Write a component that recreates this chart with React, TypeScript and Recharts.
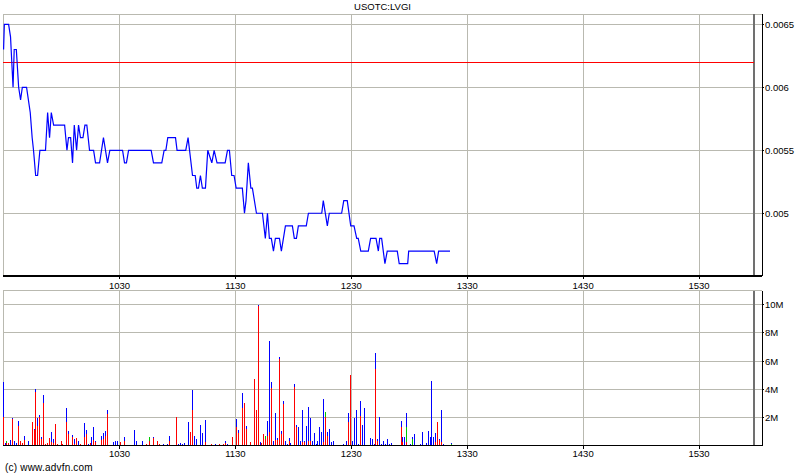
import React from 'react';
import {
  LineChart, Line, BarChart, Bar, XAxis, YAxis, CartesianGrid, ReferenceLine,
} from 'recharts';

const TITLE = 'USOTC:LVGI';
const COPYRIGHT = '(c) www.advfn.com';
const X_TICKS = [60, 120, 180, 240, 300, 360];
const X_DOMAIN: [number, number] = [-0.3, 392.6];
const CLOSE_MIN = 388.4;
const PRICE_TICKS = [0.005, 0.0055, 0.006, 0.0065];
const PRICE_MINOR = [0.00475, 0.00525, 0.00575, 0.00625];
const PRICE_DOMAIN: [number, number] = [0.004502, 0.006582];
const PREV_CLOSE = 0.0062;
const VOL_TICKS = [2, 4, 6, 8, 10];
const VOL_MINOR = [1, 3, 5, 7, 9];
const VOL_DOMAIN: [number, number] = [0, 11];

// minutes after 09:30
const priceMinutes = [0, 0.4, 2.6, 3.6, 4.9, 5.5, 6.6, 7.8, 8.8, 9.7, 11.9, 13.8, 14.8, 15.5, 16.6, 17.6, 18.8, 21.7, 22.8, 23.8, 24.7, 25.9, 31.6, 32.8, 33.6, 34.7, 35.7, 36.6, 37.8, 38.8, 39.8, 41.1, 42.1, 43.1, 44.5, 46.6, 47.6, 49.7, 51.7, 53.8, 55.0, 61.6, 62.6, 63.6, 64.7, 76.4, 77.6, 81.9, 83.1, 84.0, 85.0, 89.0, 89.8, 94.3, 95.5, 97.8, 99.2, 100.0, 100.9, 101.9, 102.9, 104.5, 105.7, 107.8, 109.0, 110.5, 114.7, 115.9, 116.9, 118.1, 119.3, 120.4, 123.6, 124.7, 125.5, 126.7, 128.0, 128.8, 130.9, 134.0, 135.5, 136.6, 137.6, 138.6, 139.7, 140.7, 142.8, 143.8, 145.9, 149.5, 150.5, 151.6, 152.6, 156.7, 157.8, 164.7, 165.5, 167.6, 168.6, 175.0, 176.1, 177.9, 179.7, 181.4, 182.8, 183.6, 184.9, 188.8, 190.0, 192.8, 194.0, 194.7, 195.7, 197.4, 198.6, 203.8, 204.8, 209.2, 209.7, 222.9, 224.2, 225.2, 231.1];
const priceValues = [0.0063, 0.0065, 0.0065, 0.0064, 0.0060, 0.0063, 0.0063, 0.0060, 0.0059, 0.0060, 0.0060, 0.0058, 0.0056, 0.0055, 0.0053, 0.0053, 0.0055, 0.0055, 0.0058, 0.0056, 0.0058, 0.0057, 0.0057, 0.0055, 0.0056, 0.0056, 0.0054, 0.0057, 0.0055, 0.0057, 0.0056, 0.0056, 0.0057, 0.0057, 0.0055, 0.0055, 0.0054, 0.0054, 0.0056, 0.0054, 0.0055, 0.0055, 0.0054, 0.0054, 0.0055, 0.0055, 0.0054, 0.0054, 0.0055, 0.0055, 0.0056, 0.0056, 0.0055, 0.0055, 0.0056, 0.0053, 0.0053, 0.0052, 0.0052, 0.0053, 0.0052, 0.0052, 0.0055, 0.0054, 0.0055, 0.0054, 0.0054, 0.0055, 0.0055, 0.0053, 0.0053, 0.0052, 0.0052, 0.0050, 0.0051, 0.0054, 0.0052, 0.0052, 0.0050, 0.0050, 0.0048, 0.0050, 0.0048, 0.0048, 0.0047, 0.0048, 0.0048, 0.0047, 0.0049, 0.0049, 0.0048, 0.0048, 0.0049, 0.0049, 0.0050, 0.0050, 0.0051, 0.0049, 0.0050, 0.0050, 0.0051, 0.0051, 0.0049, 0.0049, 0.0048, 0.0048, 0.0047, 0.0047, 0.0048, 0.0048, 0.0047, 0.0048, 0.0048, 0.0046, 0.0047, 0.0047, 0.0046, 0.0046, 0.0047, 0.0047, 0.0046, 0.0047, 0.0047];

// volume in millions, per minute after 09:30
const volMinutes = [0, 1, 2, 3, 4, 5, 6, 7, 8, 9, 10, 11, 12, 13, 15, 16, 17, 18, 19, 20, 21, 22, 23, 24, 25, 26, 27, 28, 30, 31, 33, 34, 36, 37, 38, 39, 40, 42, 43, 44, 45, 46, 47, 48, 51, 52, 53, 54, 57, 58, 59, 61, 63, 68, 69, 72, 74, 76, 78, 80, 81, 83, 85, 86, 90, 91, 92, 93, 94, 96, 97, 98, 99, 100, 102, 103, 105, 108, 110, 112, 114, 115, 116, 119, 121, 122, 124, 125, 126, 128, 130, 131, 132, 133, 134, 135, 136, 137, 138, 139, 140, 141, 142, 143, 144, 145, 146, 147, 148, 149, 151, 152, 153, 154, 155, 156, 157, 158, 159, 160, 161, 162, 163, 164, 165, 166, 167, 168, 169, 170, 171, 176, 178, 179, 180, 181, 182, 183, 184, 185, 186, 187, 190, 191, 192, 193, 194, 195, 196, 197, 198, 199, 200, 201, 206, 207, 208, 209, 211, 212, 213, 216, 217, 219, 220, 221, 222, 223, 224, 225, 226, 227, 228, 232];
const volRed = [2.0, 0, 0.2, 0.2, 0, 1.9, 0, 0, 1.4, 0.3, 0.2, 0.4, 0, 0, 1.7, 1.1, 3.8, 1.4, 2.0, 0.5, 3.0, 0.1, 0.2, 0.55, 0.25, 0.2, 1.55, 0.15, 0.3, 0.1, 1.65, 0.8, 0.6, 0.1, 0.55, 0, 0.15, 0.6, 0.8, 0, 0.2, 0, 0.4, 0.25, 0.4, 0.5, 0.7, 2.25, 0, 0, 0, 0.25, 0.35, 0, 0, 0, 0.15, 0.35, 0.55, 0.3, 0.15, 0, 0, 0.3, 2.0, 0, 0, 0, 0, 0, 0.95, 2.5, 0, 0, 0, 0, 0.25, 0.15, 0, 0.15, 0.15, 0.2, 0, 0.65, 1.35, 0.9, 2.7, 3.05, 1.2, 0.25, 4.7, 2.55, 9.9, 0, 0.2, 0.85, 0.5, 0.7, 0.95, 4.1, 0, 0.4, 0.4, 6.15, 0.85, 2.95, 0, 0, 0.35, 0, 4.15, 1.3, 0, 0, 0.25, 0.25, 0, 0.35, 0.35, 0, 0, 0, 0, 0, 0, 0.25, 2.0, 0.7, 0, 0, 0, 0, 0, 1.7, 5.0, 0, 0, 0, 0, 2.1, 0, 0, 0, 0, 0, 5.45, 0.35, 0, 0, 0, 0, 0, 0, 0, 1.35, 0.25, 0, 0.25, 0, 0, 0, 0, 0, 0, 0, 0, 0, 0, 0.25, 1.7, 0.4, 0.25, 0, 0];
const volGreen = [0, 0, 0.15, 0, 0, 0, 0, 0, 0, 0, 0, 0, 0, 0, 0, 0, 0, 0, 0, 0, 0, 0, 0, 0, 0, 0, 0, 0, 0, 0, 0, 0, 0, 0, 0, 0, 0, 0, 0, 0, 0, 0, 0, 0, 0, 0, 0, 0, 0, 0, 0.05, 0, 0, 0, 0, 0, 0, 0.25, 0, 0, 0, 0, 0, 0, 0, 0, 0, 0, 0, 0, 0, 0, 0, 0, 0, 0, 0, 0, 0, 0, 0, 0, 0, 0, 0, 0, 0, 0, 0, 0, 0, 0, 0, 0, 0, 0, 0.2, 0, 0, 0, 0, 0, 0, 0, 0, 0, 0, 0, 0, 0, 0, 0, 0, 0, 0, 0, 0, 0, 0, 0, 0, 0, 0, 0, 0, 0, 0.4, 0, 0, 0, 0, 0, 0, 0, 0, 0, 0, 0, 0, 0, 0, 0, 0, 0, 0, 0, 0, 0, 0, 0, 0, 0, 0, 0, 0, 0, 0, 1.05, 0, 0.5, 0, 0, 0, 0, 0, 0, 0, 0, 0, 0, 0, 0, 0, 0.1, 0, 0];
const volBlue = [2.5, 0.17, 0, 0, 0.4, 0.05, 0.35, 0.2, 0.35, 0, 0, 0.3, 0.07, 0.3, 0, 0.05, 0.2, 0.55, 0.15, 0.1, 0.6, 0, 0, 0, 0.7, 0.3, 0, 0, 0, 0, 1.0, 0.25, 0.15, 0.4, 0, 0.35, 0, 1.0, 0.3, 0.1, 0, 0.6, 0.9, 0.1, 0.3, 0.4, 0.35, 0.3, 0.25, 0.35, 0.3, 0, 0.3, 1.1, 0.3, 0.35, 0, 0, 0.1, 0, 0, 0.15, 0.15, 0.4, 0, 0.15, 0.2, 0.15, 0.2, 1.7, 0, 1.45, 0.7, 0.5, 1.45, 0.9, 1.6, 0, 0.1, 0, 0, 0.1, 0.1, 0, 0.55, 0.2, 1.0, 0, 0.2, 0, 0, 0, 0.1, 0.25, 0, 0, 0, 1.05, 6.5, 0.4, 0.3, 1.95, 0.15, 0.15, 0.2, 0.25, 0.35, 0.15, 0.2, 0.2, 0.2, 0.2, 1.35, 0.35, 2.25, 0.1, 1.4, 2.4, 1.6, 0.35, 0.9, 0.15, 0.3, 1.35, 1.0, 3.05, 0, 0.3, 1.2, 0.25, 0.35, 0.1, 0.3, 0.6, 0, 0.3, 1.95, 2.5, 0.1, 1.05, 1.5, 2.65, 0.55, 0.5, 0.1, 1.1, 0.15, 2.0, 0.1, 0.35, 0.1, 0.5, 0.15, 0.2, 0.4, 0.4, 0.6, 1.0, 0.1, 0.1, 0.8, 0.15, 1.0, 0.2, 1.05, 0.65, 4.6, 0.65, 0.65, 0, 0.1, 2.3, 0.15, 0.1];

const priceData = priceMinutes.map((m, i) => ({ m, p: priceValues[i] }));
const volData = volMinutes.map((m, i) => ({ m, r: volRed[i], g: volGreen[i], b: volBlue[i] }));

const FONT = '"Liberation Sans", Arial, sans-serif';
const GRID = '#b9b9b0';

const fmtTime = (m: number) => {
  const t = 9 * 60 + 30 + Math.round(m);
  const h = Math.floor(t / 60);
  const mm = t % 60;
  return `${h}${String(mm).padStart(2, '0')}`;
};

const XTick = (props: any) => {
  const { x, y, payload } = props;
  return (
    <text x={x} y={y} textAnchor="middle" dominantBaseline="central" fontSize={9.5} fontFamily={FONT} fill="#000">
      {fmtTime(payload.value)}
    </text>
  );
};

const makeYTick = (fmt: (v: number) => string) => (props: any) => {
  const { x, y, payload } = props;
  return (
    <text x={x} y={y} textAnchor="start" dominantBaseline="central" fontSize={9.5} fontFamily={FONT} fill="#000">
      {fmt(payload.value)}
    </text>
  );
};

const PriceTick = makeYTick((v) => String(Number(v.toFixed(5))));
const VolTick = makeYTick((v) => `${v}M`);
const Empty = () => <g />;

const css = `
.crisp .recharts-cartesian-axis-line,
.crisp .recharts-cartesian-axis-tick-line,
.crisp .recharts-cartesian-grid line,
.crisp .recharts-reference-line line,
.crisp .recharts-bar-rectangle path { shape-rendering: crispEdges; }
`;

export default function App() {
  return (
    <div className="crisp" style={{ position: 'absolute', left: 0, top: 0, width: 800, height: 475, background: '#fff', overflow: 'hidden' }}>
      <style>{css}</style>
      <div style={{ position: 'absolute', left: 0, top: 1, width: 765, textAlign: 'center', fontFamily: FONT, fontSize: 9.5, lineHeight: '12px', color: '#000' }}>
        {TITLE}
      </div>
      <div style={{ position: 'absolute', left: 0, top: 0 }}>
        <LineChart width={800} height={290} data={priceData} margin={{ top: 14, right: 0, left: 3, bottom: 0 }}>
          <CartesianGrid xAxisId="b" yAxisId="r" stroke={GRID} strokeWidth={1} />
          <XAxis xAxisId="b" dataKey="m" type="number" domain={X_DOMAIN} allowDataOverflow ticks={X_TICKS} interval={0}
            height={14} tickSize={3} tickMargin={6} tick={XTick} axisLine={{ stroke: '#000', strokeWidth: 1.5 }} tickLine={{ stroke: '#000' }} />
          <XAxis xAxisId="t" orientation="top" dataKey="m" type="number" domain={X_DOMAIN} allowDataOverflow height={0}
            tick={false} tickLine={false} axisLine={{ stroke: '#000' }} />
          <YAxis yAxisId="l" orientation="left" width={0} mirror type="number" domain={PRICE_DOMAIN} allowDataOverflow
            ticks={PRICE_MINOR} interval={0} tickSize={3} tick={Empty} axisLine={{ stroke: '#000', strokeWidth: 2 }} tickLine={{ stroke: '#000' }} />
          <YAxis yAxisId="rm" orientation="right" width={0} mirror type="number" domain={PRICE_DOMAIN} allowDataOverflow
            ticks={PRICE_MINOR} interval={0} tickSize={3} tick={Empty} axisLine={false} tickLine={{ stroke: '#000' }} />
          <YAxis yAxisId="r" orientation="right" width={38} type="number" domain={PRICE_DOMAIN} allowDataOverflow
            ticks={PRICE_TICKS} interval={0} tickSize={2} tickMargin={1} tick={PriceTick} axisLine={{ stroke: '#000' }} tickLine={{ stroke: '#000' }} />
          <ReferenceLine xAxisId="b" yAxisId="r" x={CLOSE_MIN} stroke="#707070" strokeWidth={1.5} />
          <ReferenceLine xAxisId="b" yAxisId="r" segment={[{ x: X_DOMAIN[0], y: PREV_CLOSE }, { x: CLOSE_MIN, y: PREV_CLOSE }]} stroke="#ff0000" strokeWidth={1} />
          <Line xAxisId="b" yAxisId="r" dataKey="p" type="linear" stroke="#0000ff" strokeWidth={1.2} dot={false} isAnimationActive={false} />
        </LineChart>
      </div>
      <div style={{ position: 'absolute', left: 0, top: 290 }}>
        <BarChart width={800} height={185} data={volData} margin={{ top: 0.5, right: 0, left: 3, bottom: 0 }} barGap={0} barCategoryGap={0}>
          <CartesianGrid xAxisId="b" yAxisId="r" stroke={GRID} strokeWidth={1} />
          <XAxis xAxisId="b" dataKey="m" type="number" domain={X_DOMAIN} allowDataOverflow ticks={X_TICKS} interval={0}
            height={29.3} tickSize={3} tickMargin={5} tick={XTick} axisLine={{ stroke: '#000', strokeWidth: 1.5 }} tickLine={{ stroke: '#000' }} />
          <XAxis xAxisId="t" orientation="top" dataKey="m" type="number" domain={X_DOMAIN} allowDataOverflow height={0}
            tick={false} tickLine={false} axisLine={{ stroke: '#000' }} />
          <YAxis yAxisId="l" orientation="left" width={0} mirror type="number" domain={VOL_DOMAIN} allowDataOverflow
            ticks={VOL_MINOR} interval={0} tickSize={3} tick={Empty} axisLine={{ stroke: '#000', strokeWidth: 2 }} tickLine={{ stroke: '#000' }} />
          <YAxis yAxisId="rm" orientation="right" width={0} mirror type="number" domain={VOL_DOMAIN} allowDataOverflow
            ticks={VOL_MINOR} interval={0} tickSize={3} tick={Empty} axisLine={false} tickLine={{ stroke: '#000' }} />
          <YAxis yAxisId="r" orientation="right" width={38} type="number" domain={VOL_DOMAIN} allowDataOverflow
            ticks={VOL_TICKS} interval={0} tickSize={2} tickMargin={1} tick={VolTick} axisLine={{ stroke: '#000' }} tickLine={{ stroke: '#000' }} />
          <ReferenceLine xAxisId="b" yAxisId="r" x={CLOSE_MIN} stroke="#707070" strokeWidth={1.5} />
          <Bar xAxisId="b" yAxisId="r" dataKey="r" stackId="v" fill="#ff0000" barSize={1} isAnimationActive={false} />
          <Bar xAxisId="b" yAxisId="r" dataKey="g" stackId="v" fill="#00c800" barSize={1} isAnimationActive={false} />
          <Bar xAxisId="b" yAxisId="r" dataKey="b" stackId="v" fill="#0000ff" barSize={1} isAnimationActive={false} />
        </BarChart>
      </div>
      <div style={{ position: 'absolute', left: 5, top: 461, fontFamily: FONT, fontSize: 10, lineHeight: '13px', color: '#000', letterSpacing: '0.2px' }}>
        {COPYRIGHT}
      </div>
    </div>
  );
}
